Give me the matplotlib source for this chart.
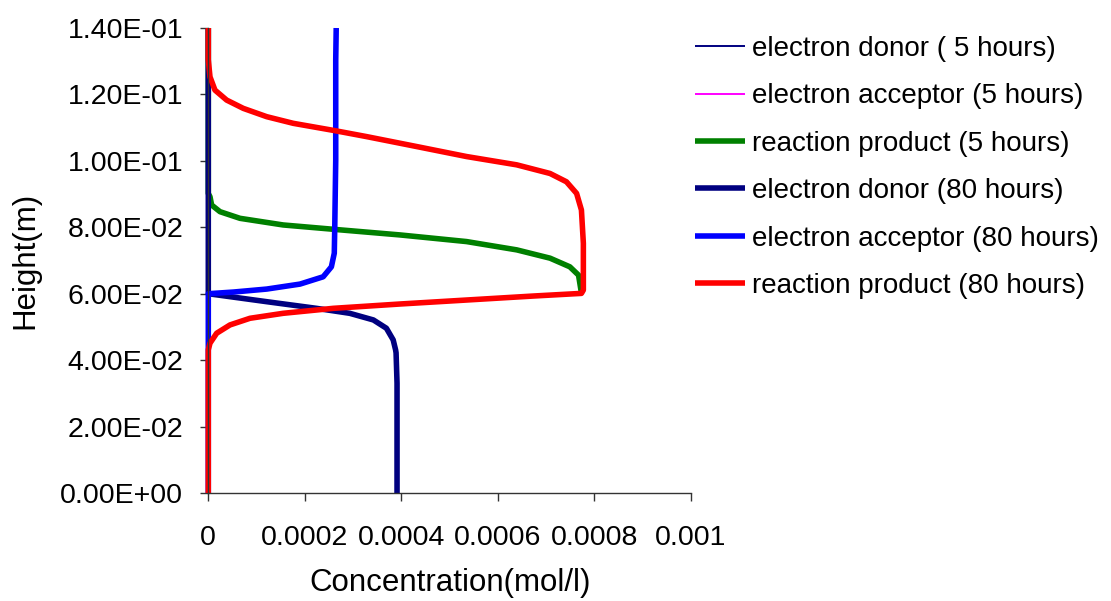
import matplotlib
matplotlib.use("Agg")
import matplotlib.pyplot as plt
from matplotlib.ticker import FuncFormatter

plt.rcParams['font.family'] = ['Liberation Sans', 'DejaVu Sans']

# 5 hours (donor / acceptor sit on the zero line, hidden under later series)
donor_5h_x = [0.0, 0.0]
donor_5h_y = [0.0, 0.14]
acceptor_5h_x = [0.0, 0.0]
acceptor_5h_y = [0.0, 0.14]

product_5h_x = [0.000773, 0.000772, 0.000767, 0.000749, 0.000708, 0.000639, 0.000535,
                0.000397, 0.000259, 0.000155, 0.0000656, 0.0000242, 0.0000069,
                0.0000035, 0.0, 0.0]
product_5h_y = [0.0601, 0.0611, 0.0656, 0.0681, 0.0707, 0.0732, 0.0757,
                0.0777, 0.0794, 0.0807, 0.0827, 0.0847, 0.0867,
                0.0892, 0.0902, 0.14]

# 80 hours
donor_80h_x = [0.000391, 0.000391, 0.000389, 0.000388, 0.000383, 0.000369, 0.000342,
               0.000293, 0.000224, 0.000121, 0.0, 0.0]
donor_80h_y = [0.0, 0.0331, 0.0422, 0.0431, 0.0461, 0.0496, 0.0521,
               0.0541, 0.0556, 0.0576, 0.060, 0.14]

acceptor_80h_x = [0.0, 0.0, 0.0000518, 0.000121, 0.00019, 0.000238, 0.000255, 0.000261,
                  0.000262, 0.000264, 0.000264, 0.000265]
acceptor_80h_y = [0.0, 0.060, 0.0605, 0.0614, 0.0629, 0.0651, 0.0681, 0.0722,
                  0.0802, 0.1002, 0.1304, 0.14]

product_80h_x = [0.0, 0.0, 0.0000035, 0.0000173, 0.0000449, 0.0000863, 0.000155,
                 0.000259, 0.000397, 0.000535, 0.000673, 0.000773,
                 0.000777, 0.000777, 0.000773, 0.000763, 0.000742, 0.000708,
                 0.000639, 0.000535, 0.000432, 0.000328, 0.000262, 0.000176,
                 0.000121, 0.0000725, 0.000038, 0.0000138, 0.0000035, 0.0, 0.0]
product_80h_y = [0.0, 0.0431, 0.0451, 0.0481, 0.0506, 0.0526, 0.0541,
                 0.0556, 0.0569, 0.0581, 0.0593, 0.0601,
                 0.0611, 0.0752, 0.0852, 0.0902, 0.0937, 0.0962,
                 0.0988, 0.1013, 0.1043, 0.1073, 0.1091, 0.1113,
                 0.1133, 0.1158, 0.1183, 0.1213, 0.1253, 0.1304, 0.14]

x_ticks = [0, 0.0002, 0.0004, 0.0006, 0.0008, 0.001]
x_tick_labels = ['0', '0.0002', '0.0004', '0.0006', '0.0008', '0.001']
y_ticks = [0, 0.02, 0.04, 0.06, 0.08, 0.10, 0.12, 0.14]

fig = plt.figure(figsize=(11.11, 6.01), dpi=100)
ax = fig.add_axes([208.3 / 1111, 108 / 601, (691 - 208.3) / 1111, (493 - 28) / 601])

thick = 4.0
thin = 1.4
common = dict(clip_on=False, solid_joinstyle='round', solid_capstyle='butt')
ax.plot(donor_5h_x, donor_5h_y, color='#000080', lw=thin, label='electron donor ( 5 hours)', **common)
ax.plot(acceptor_5h_x, acceptor_5h_y, color='#ff00ff', lw=thin, label='electron acceptor (5 hours)', **common)
ax.plot(product_5h_x, product_5h_y, color='#008000', lw=thick, label='reaction product (5 hours)', **common)
ax.plot(donor_80h_x, donor_80h_y, color='#000080', lw=thick, label='electron donor (80 hours)', **common)
ax.plot(acceptor_80h_x, acceptor_80h_y, color='#0000ff', lw=thick, label='electron acceptor (80 hours)', **common)
ax.plot(product_80h_x, product_80h_y, color='#ff0000', lw=thick, label='reaction product (80 hours)', **common)

ax.set_xlim(0, 0.001)
ax.set_ylim(0, 0.14)
ax.set_xticks(x_ticks)
ax.set_xticklabels(x_tick_labels)
ax.set_yticks(y_ticks)
ax.yaxis.set_major_formatter(FuncFormatter(lambda v, p: f"{v:.2E}"))

for s in ['top', 'right']:
    ax.spines[s].set_visible(False)
for s in ['left', 'bottom']:
    ax.spines[s].set_color('#333333')
    ax.spines[s].set_linewidth(1.0)

ax.tick_params(axis='both', direction='out', length=6, width=1, color='#333333', labelsize=20.5)
ax.tick_params(axis='x', pad=17)
ax.tick_params(axis='y', pad=12)

ax.set_xlabel('Concentration(mol/l)', fontsize=22.5, labelpad=12)
ax.set_ylabel('Height(m)', fontsize=22.5, labelpad=14)

fs = 20
fs_px = fs * 100 / 72
leg = fig.legend(loc='upper left', bbox_to_anchor=(695 / 1111, 1 - 36 / 601),
                 frameon=False, fontsize=fs, borderpad=0, borderaxespad=0,
                 handlelength=50 / fs_px, handletextpad=7 / fs_px, labelspacing=0.77)

fig.savefig('out.png', dpi=100)
